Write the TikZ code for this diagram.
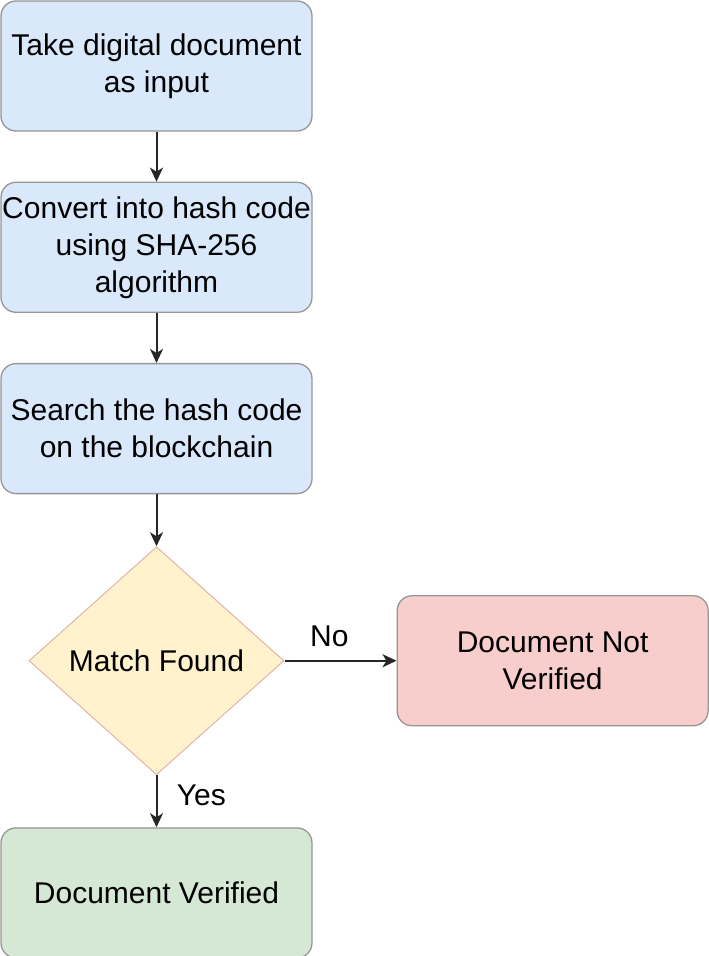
\documentclass[tikz,border=0pt]{standalone}
\usepackage{fontspec}
\setmainfont{Liberation Sans}
\usetikzlibrary{arrows.meta, positioning, shapes.geometric}
\definecolor{stepblue}{HTML}{DAE8FC}
\definecolor{decideyellow}{HTML}{FFF2CC}
\definecolor{failred}{HTML}{F8CECC}
\definecolor{okgreen}{HTML}{D5E8D4}
\definecolor{edgegray}{RGB}{150,150,150}
\definecolor{diaedge}{RGB}{225,180,170}

\tikzset{
    bigtext/.style={font=\fontsize{30}{37}\selectfont, text=black},
    stepbox/.style={draw=edgegray, line width=1.3pt, rounded corners=15pt, inner xsep=0pt,
        minimum width=311pt, minimum height=130pt, align=center, bigtext},
    flowarrow/.style={-{Stealth[length=14pt,width=13pt,inset=4pt]}, line width=2pt, black!85}
}

\begin{document}
\begin{tikzpicture}[x=1pt, y=-1pt]
    \useasboundingbox (0,0) rectangle (709,956);

    % Input box
    \node[stepbox, fill=stepblue] (input) at (156.5,66) {Take digital document\\as input};

    % Hashing box
    \node[stepbox, fill=stepblue, below=50pt of input] (hash) {Convert into hash code\\using SHA-256\\algorithm};

    % Search box
    \node[stepbox, fill=stepblue, below=50pt of hash] (search) {Search the hash code\\on the blockchain};

    % Decision
    \node[draw=diaedge, line width=1pt, fill=decideyellow, diamond, aspect=1.12, inner sep=0pt,
          minimum width=255pt, minimum height=228pt, below=52pt of search, bigtext] (match) {Match Found};

    % Result boxes
    \node[stepbox, fill=failred, right=112pt of match] (notok) {Document Not\\Verified};
    \node[stepbox, fill=okgreen, below=52pt of match] (ok) {Document Verified};

    % Arrows
    \draw[flowarrow] (input) -- (hash);
    \draw[flowarrow] (hash) -- (search);
    \draw[flowarrow] (search) -- (match);
    \draw[flowarrow] (match.east) -- node[pos=0.4, above=10pt, bigtext] {No} (notok.west);
    \draw[flowarrow] (match.south) -- node[pos=0.38, right=16pt, bigtext] {Yes} (ok.north);
\end{tikzpicture}
\end{document}
